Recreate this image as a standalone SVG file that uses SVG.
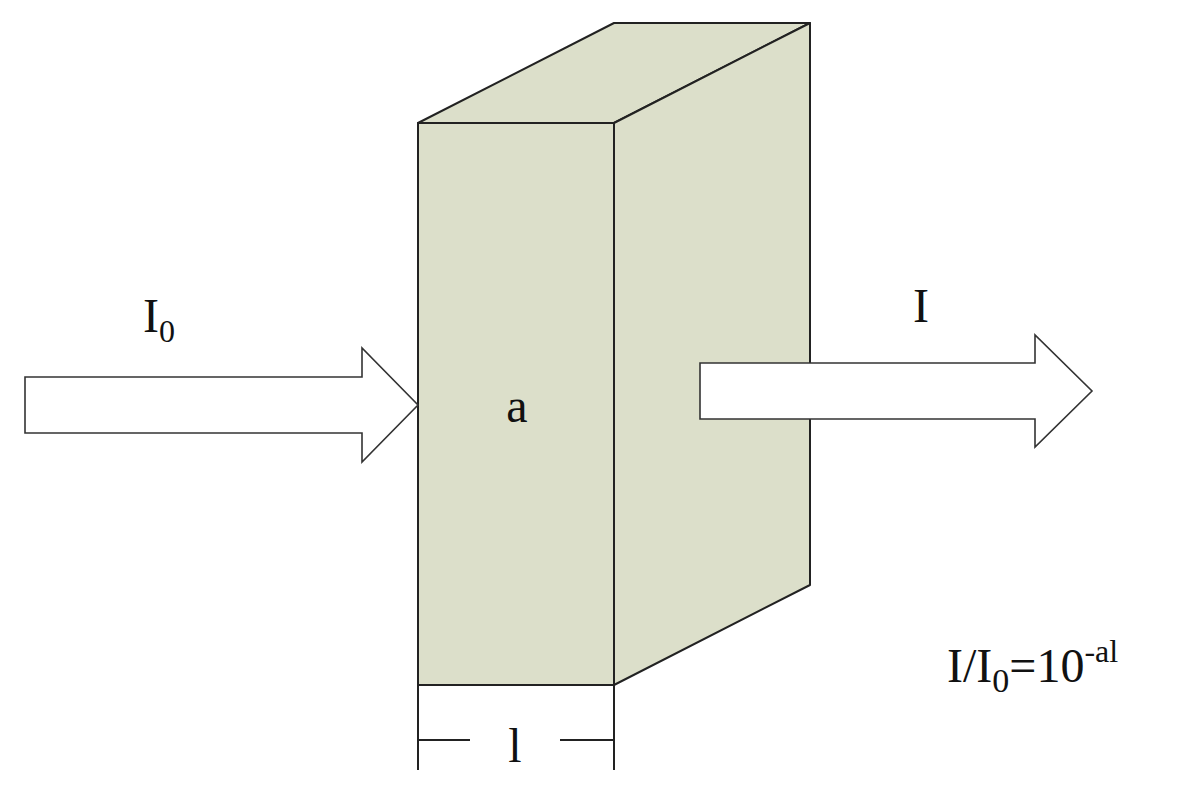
<svg xmlns="http://www.w3.org/2000/svg" width="1186" height="794" viewBox="0 0 1186 794">
<style>
.f{fill:#dcdfca;stroke:#222;stroke-width:2;stroke-linejoin:round}
.a{fill:#fff;stroke:#333;stroke-width:1.6}
.l{stroke:#222;stroke-width:2;fill:none}
text{font-family:"Liberation Serif",serif;font-size:48px;fill:#111}
</style>
<rect width="1186" height="794" fill="#fff"/>
<g id="block">
<polygon class="f" points="418,123 614,23 810,23 614,123"/>
<polygon class="f" points="614,123 810,23 810,585 614,685"/>
<rect class="f" x="418" y="123" width="196" height="562"/>
<text x="517" y="422" text-anchor="middle">a</text>
</g>
<g id="connectors">
<polygon id="in-arrow" class="a" points="25,377 362,377 362,348 418,405 362,462 362,433 25,433"/>
<polygon id="out-arrow" class="a" points="700,363 1035,363 1035,335 1092,391 1035,447 1035,419 700,419"/>
<path class="l" d="M418,685V770M614,685V770M418,740H470M560,740H614"/>
</g>
<g id="labels">
<text x="143" y="332">I<tspan font-size="32" dy="10">0</tspan></text>
<text x="913" y="322">I</text>
<text x="515" y="762" text-anchor="middle">l</text>
<text x="947" y="682" font-size="52">I/I<tspan font-size="34" dy="10">0</tspan><tspan dy="-10">=10</tspan><tspan font-size="32" dy="-20">-al</tspan></text>
</g>
</svg>
